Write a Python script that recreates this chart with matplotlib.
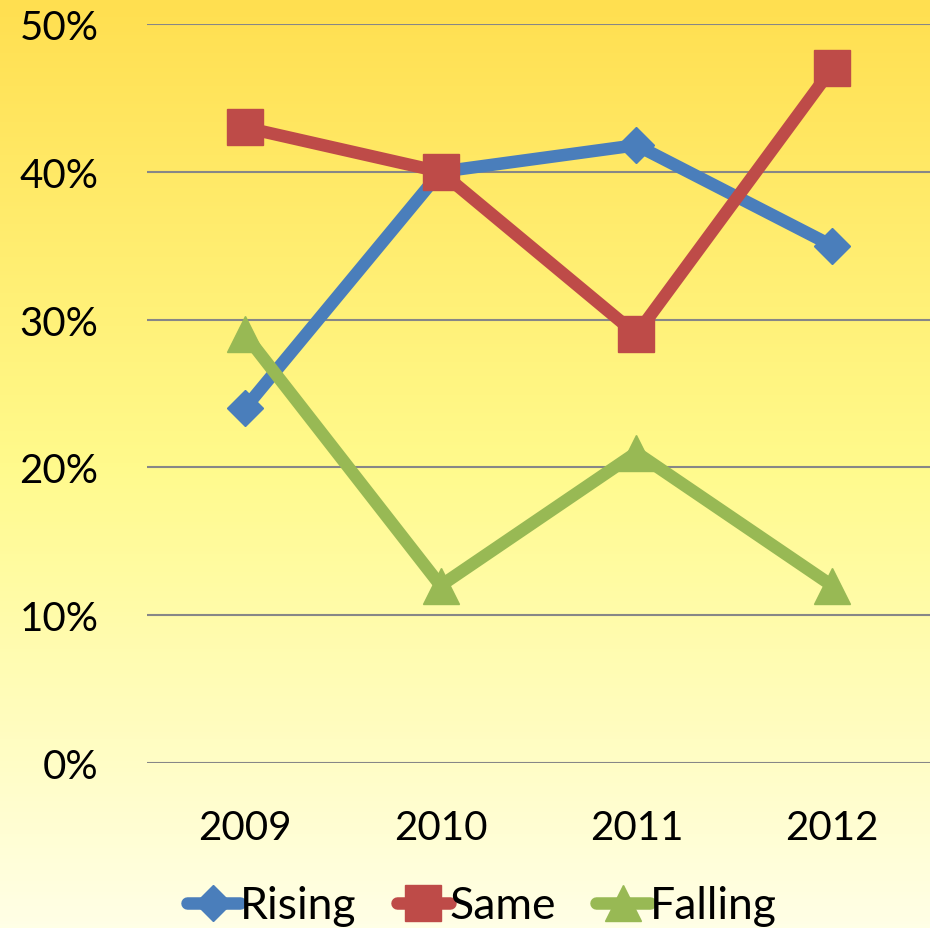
import matplotlib.pyplot as plt
import numpy as np
from matplotlib.ticker import PercentFormatter

# Datos
years = ["2009", "2010", "2011", "2012"]
rising = [24, 40, 41.8, 35]
same = [43, 40, 29, 47]
falling = [29, 12, 21, 12]

plt.rcParams['font.family'] = ['Lato', 'DejaVu Sans']

fig = plt.figure(figsize=(9.3, 9.29), dpi=100)

# Fondo degradado amarillo
bg = fig.add_axes([0, 0, 1, 1], zorder=-10)
top = np.array([255, 223, 80]) / 255
mid = np.array([255, 250, 140]) / 255
bot = np.array([255, 255, 230]) / 255
t = np.linspace(0, 1, 256)[:, None]
grad = np.where(t < 0.5, top + (mid - top) * (t / 0.5), mid + (bot - mid) * ((t - 0.5) / 0.5))
bg.imshow(grad[:, None, :], aspect='auto', extent=[0, 1, 0, 1])
bg.axis('off')

ax = fig.add_axes([147 / 930, 1 - 764 / 929, 1 - 147 / 930, (764 - 25) / 929])
ax.patch.set_alpha(0)

x = np.arange(len(years))
series = [
    ("Rising", rising, "#4A7EBB", "D", 18),
    ("Same", same, "#BE4B48", "s", 26),
    ("Falling", falling, "#98B954", "^", 26),
]
for name, vals, color, mk, ms in series:
    ax.plot(x, np.array(vals) / 100, color=color, linewidth=9, marker=mk,
            markersize=ms, label=name, solid_capstyle='round', solid_joinstyle='round')

ax.set_xlim(-0.5, 3.5)
ax.set_ylim(0, 0.5)
ax.set_yticks(np.arange(0, 0.51, 0.1))
ax.yaxis.set_major_formatter(PercentFormatter(1.0, decimals=0))
ax.set_xticks(x)
ax.set_xticklabels(years)
ax.grid(axis='y', color='#878787', linewidth=1.5)
ax.set_axisbelow(True)
for s in ax.spines.values():
    s.set_visible(False)
ax.tick_params(axis='both', length=0, labelsize=29)
ax.tick_params(axis='y', pad=35)
ax.tick_params(axis='x', pad=33)

fig.legend(loc='center', bbox_to_anchor=(0.518, 1 - 907 / 929), ncol=3, frameon=False,
           fontsize=32, handlelength=1.2, handletextpad=0.0, columnspacing=0.9)

fig.savefig("out.png", dpi=100)
